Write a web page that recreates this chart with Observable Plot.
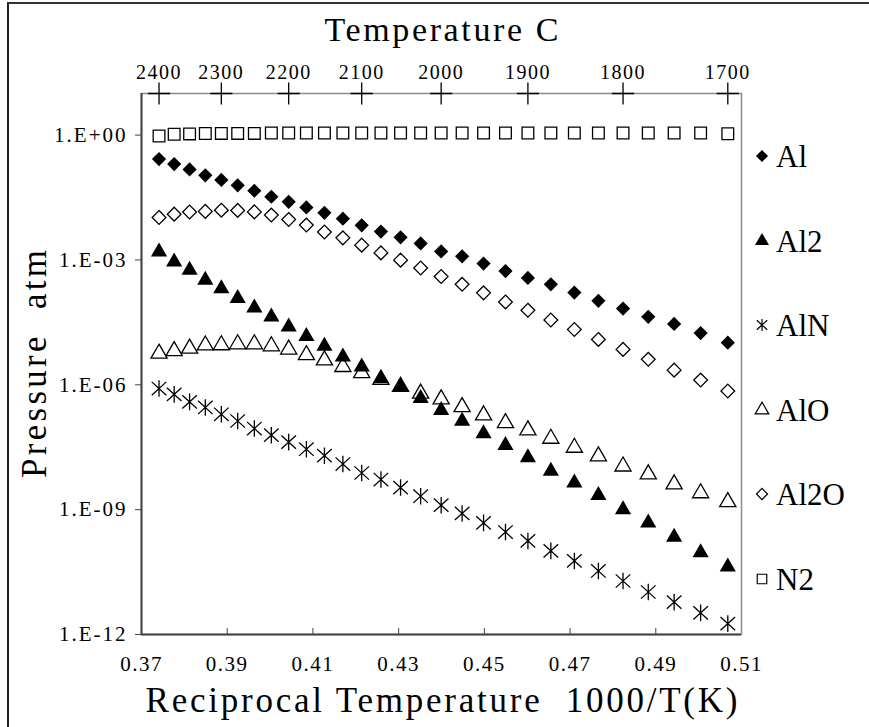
<!DOCTYPE html>
<html>
<head>
<meta charset="utf-8">
<script src="https://cdn.jsdelivr.net/npm/d3@7"></script>
<script src="https://cdn.jsdelivr.net/npm/@observablehq/plot@0.6"></script>
<style>
  body { margin: 0; background: #fff; }
  #chart { position: relative; width: 869px; height: 727px; font-family: 'Liberation Serif', serif; overflow: hidden; }
  #chart > svg { position: absolute; left: 0; top: 0; }
  #chart svg text { white-space: pre; }
  #chart svg [aria-label="x-axis tick label"] text { letter-spacing: 1.5px; }
  #chart svg [aria-label="y-axis tick label"] text { letter-spacing: 2px; }
  #border { position: absolute; left: 7px; top: 2px; width: 870px; height: 730px; border-top: 2px solid #333; border-left: 2px solid #222; }
  #chart svg.legend { position: absolute; left: 751px; top: 0; }
</style>
</head>
<body>
<div id="chart"><div id="border"></div></div>
<script>
// Temperatures of the computed points, °C (every 25 degrees)
const tempC = [2400, 2375, 2350, 2325, 2300, 2275, 2250, 2225, 2200, 2175,
               2150, 2125, 2100, 2075, 2050, 2025, 2000, 1975, 1950, 1925,
               1900, 1875, 1850, 1825, 1800, 1775, 1750, 1725, 1700];

// Equilibrium partial pressures, atm
const pAl = [0.265, 0.201, 0.150, 0.108, 0.084, 0.062, 0.046, 0.033, 0.025, 0.0183,
             0.0136, 0.0098, 0.0068, 0.0048, 0.0035, 0.0025, 0.0016, 0.00122, 0.00082, 0.00054,
             0.00037, 0.00026, 0.000165, 0.000104, 0.000068, 0.000043, 0.000029, 0.0000175, 0.0000103];
const pAl2 = [1.57e-3, 9.0e-4, 5.7e-4, 3.3e-4, 2.06e-4, 1.19e-4, 7.1e-5, 4.3e-5, 2.46e-5, 1.47e-5,
              8.5e-6, 4.7e-6, 2.7e-6, 1.42e-6, 8.9e-7, 4.7e-7, 2.45e-7, 1.35e-7, 6.7e-8, 3.5e-8,
              1.79e-8, 8.5e-9, 4.4e-9, 2.2e-9, 1.0e-9, 4.8e-10, 2.2e-10, 9.3e-11, 4.2e-11];
const pAlN = [8.15e-7, 5.9e-7, 3.9e-7, 2.85e-7, 1.96e-7, 1.35e-7, 8.9e-8, 6.15e-8, 4.2e-8, 2.83e-8,
              1.98e-8, 1.25e-8, 7.6e-9, 5.3e-9, 3.4e-9, 2.1e-9, 1.28e-9, 8.1e-10, 4.8e-10, 2.9e-10,
              1.77e-10, 1.02e-10, 5.85e-11, 3.36e-11, 1.93e-11, 1.05e-11, 6.0e-12, 3.3e-12, 1.83e-12];
const pAlO = [5.65e-6, 6.5e-6, 7.5e-6, 8.9e-6, 9.0e-6, 9.5e-6, 9.5e-6, 8.5e-6, 7.1e-6, 5.2e-6,
              3.9e-6, 2.7e-6, 1.93e-6, 1.33e-6, 9.0e-7, 6.2e-7, 4.5e-7, 2.94e-7, 1.86e-7, 1.21e-7,
              8.1e-8, 5.1e-8, 3.1e-8, 1.92e-8, 1.1e-8, 7.1e-9, 4.1e-9, 2.5e-9, 1.53e-9];
const pAl2O = [0.0105, 0.0126, 0.0142, 0.0147, 0.0157, 0.0155, 0.0143, 0.0120, 0.0094, 0.0069,
               0.0047, 0.0034, 0.00227, 0.00148, 0.00099, 0.00064, 0.00040, 0.00026, 0.000162, 0.000098,
               0.000062, 0.000036, 0.0000213, 0.0000123, 0.0000071, 0.0000041, 0.00000225, 0.0000013, 0.00000071];
const pN2 = [0.95, 1.05, 1.07, 1.09, 1.1, 1.1, 1.1, 1.12, 1.12, 1.12,
             1.12, 1.12, 1.12, 1.12, 1.12, 1.12, 1.12, 1.12, 1.12, 1.12,
             1.12, 1.12, 1.12, 1.12, 1.12, 1.12, 1.12, 1.12, 1.08];

// Axis ticks
const xTicks = [0.37, 0.39, 0.41, 0.43, 0.45, 0.47, 0.49, 0.51];
const yTicks = [1, 1e-3, 1e-6, 1e-9, 1e-12];
const topTicksC = [2400, 2300, 2200, 2100, 2000, 1900, 1800, 1700];

// Reciprocal temperature 1000/T with T in kelvin
const recip = c => 1000 / (c + 273.15);
const topTickX = topTicksC.map(recip);

// Asterisk drawn as a vertical stroke crossed by an X
const starX = {
  draw(context, size) {
    const r = Math.sqrt(size / Math.PI);
    const dx = 0.88 * r, dy = 0.8 * r;
    context.moveTo(0, -r); context.lineTo(0, r);
    context.moveTo(-dx, -dy); context.lineTo(dx, dy);
    context.moveTo(-dx, dy); context.lineTo(dx, -dy);
  }
};

const series = [
  {name: "Al",   values: pAl,   symbol: "diamond2", fill: "black", stroke: "none",  r: 6.4, legendSize: 95},
  {name: "Al2",  values: pAl2,  symbol: "triangle", fill: "black", stroke: "none",  r: 6.0, legendSize: 85},
  {name: "AlN",  values: pAlN,  symbol: starX,      fill: "none",  stroke: "black", r: 8.3, legendSize: 110},
  {name: "AlO",  values: pAlO,  symbol: "triangle", fill: "white", stroke: "black", r: 6.0, legendSize: 80},
  {name: "Al2O", values: pAl2O, symbol: "diamond2", fill: "white", stroke: "black", r: 6.2, legendSize: 80},
  {name: "N2",   values: pN2,   symbol: "square",   fill: "white", stroke: "black", r: 6.6, legendSize: 90}
];
const rows = s => tempC.map((t, i) => ({x: recip(t), p: s.values[i]}));
const dotFor = s => Plot.dot(rows(s), {
  x: "x", y: "p", symbol: s.symbol, r: s.r,
  fill: s.fill, stroke: s.stroke, strokeWidth: s.fill === "black" ? 0 : 1.3
});
const byName = Object.fromEntries(series.map(s => [s.name, s]));

const yFormat = d => {
  const e = Math.round(Math.log10(d));
  return "1.E" + (e < 0 ? "-" : "+") + String(Math.abs(e)).padStart(2, "0");
};

const titles = {
  top: "Temperature C",
  bottom: "Reciprocal Temperature  1000/T(K)",
  left: "Pressure  atm"
};

const chart = Plot.plot({
  width: 869,
  height: 727,
  marginLeft: 141,
  marginRight: 128,
  marginTop: 93,
  marginBottom: 93,
  style: {fontFamily: "'Liberation Serif', serif", color: "#000", background: "transparent"},
  x: {domain: [0.37, 0.51]},
  y: {type: "log", domain: [1e-12, 10]},
  marks: [
    Plot.frame({stroke: "#8c8c8c", strokeWidth: 1.5}),
    Plot.ruleX([0.37], {stroke: "#444", strokeWidth: 2}),
    Plot.ruleY([1e-12], {stroke: "#444", strokeWidth: 2}),
    // left axis: outward ticks every three decades
    Plot.axisY({ticks: yTicks, tickSize: 6, tickPadding: 8, tickFormat: yFormat, fontSize: 21, label: null, stroke: "#444"}),
    // bottom axis: ticks pointing into the plot, labels below
    Plot.axisX({ticks: xTicks.slice(1, -1), tickSize: 6, dy: -6, tickFormat: () => "", label: null, stroke: "#444"}),
    Plot.axisX({ticks: xTicks, tickSize: 0, tickPadding: 22, tickFormat: d => d.toFixed(2), fontSize: 21, label: null}),
    // top axis: temperature in °C
    Plot.axisX({anchor: "top", ticks: topTickX, tickSize: 0, tickPadding: 15,
                tickFormat: d => String(Math.round(1000 / d - 273.15)), fontSize: 20, label: null}),
    Plot.dot(topTickX, {x: d => d, frameAnchor: "top", symbol: "plus", r: 7.2, stroke: "black", fill: "none", strokeWidth: 1.3}),
    // series
    dotFor(byName["N2"]),
    dotFor(byName["Al"]),
    dotFor(byName["Al2O"]),
    dotFor(byName["AlO"]),
    dotFor(byName["Al2"]),
    dotFor(byName["AlN"]),
    // titles
    Plot.text([titles.top], {text: d => d, frameAnchor: "top", textAnchor: "middle", lineAnchor: "middle", dy: -63, fontSize: 34, fill: "black"}),
    Plot.text([titles.bottom], {text: d => d, frameAnchor: "bottom", textAnchor: "middle", lineAnchor: "middle", dy: 66, fontSize: 35, fill: "black"}),
    Plot.text([titles.left], {text: d => d, frameAnchor: "left", textAnchor: "middle", lineAnchor: "middle", dx: -107, rotate: -90, fontSize: 35, fill: "black"})
  ]
});
const host = document.getElementById("chart");
host.insertBefore(chart, host.firstChild);

// stretch the titles to their monospaced widths
const titleWidths = {[titles.top]: 234, [titles.bottom]: 592, [titles.left]: 228};
d3.select(chart).selectAll("text")
  .filter(function () { return this.textContent in titleWidths; })
  .attr("textLength", function () { return titleWidths[this.textContent]; })
  .attr("lengthAdjust", "spacing");

// legend to the right of the plot
const legendTops = [156, 241, 325, 410, 494, 579];
const legend = d3.create("svg")
  .attr("class", "legend")
  .attr("width", 118)
  .attr("height", 727);
const symbolType = s => typeof s.symbol === "string"
  ? {diamond2: d3.symbolDiamond2, triangle: d3.symbolTriangle, square: d3.symbolSquare}[s.symbol]
  : s.symbol;
const entries = legend.selectAll("g")
  .data(series)
  .join("g")
  .attr("transform", (s, i) => `translate(11,${legendTops[i]})`);
entries.append("path")
  .attr("d", s => d3.symbol(symbolType(s), s.legendSize)())
  .attr("fill", s => s.fill)
  .attr("stroke", s => s.stroke)
  .attr("stroke-width", 1.2);
entries.append("text")
  .attr("x", 14)
  .attr("dy", "0.35em")
  .attr("font-family", "'Liberation Serif', serif")
  .attr("font-size", 31)
  .attr("fill", "black")
  .text(s => s.name);
host.appendChild(legend.node());
</script>
</body>
</html>
